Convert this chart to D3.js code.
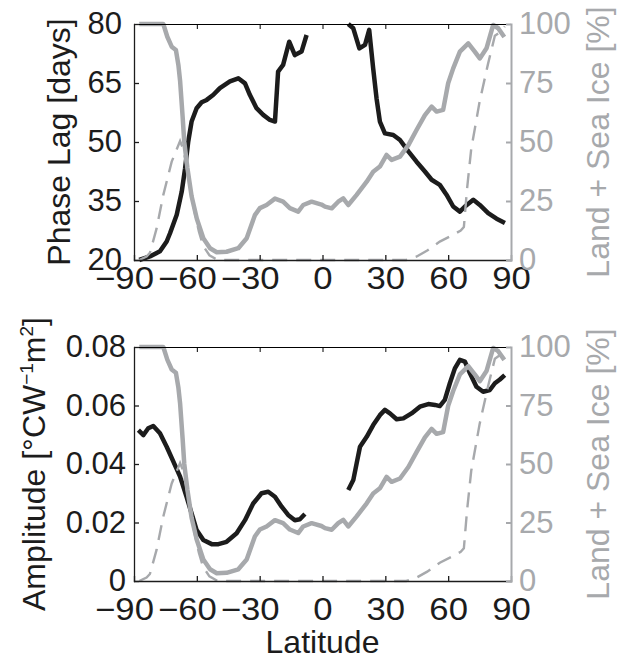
<!DOCTYPE html>
<html>
<head>
<meta charset="utf-8">
<script src="https://cdn.jsdelivr.net/npm/d3@7"></script>
<style>
  body { margin: 0; background: #fff; }
  svg text { font-family: "Liberation Sans", Arial, Helvetica, sans-serif; }
</style>
</head>
<body>
<svg id="chart" width="623" height="659"></svg>
<script>
// values: [latitude, value]
const phaseLagSouth = [[-87.5,20],[-82.4,20.9],[-77.6,22.2],[-74.4,24.7],[-72.8,26.8],[-69.6,31.5],[-67.2,37.4],
  [-65.6,43.3],[-64.1,50.1],[-62.5,55.2],[-60.1,58.6],[-57.7,60.1],[-55.3,60.7],[-52.1,62],[-49,63.7],[-44.2,65.4],
  [-40.2,66.2],[-37,64.9],[-34.7,62],[-31.5,58.6],[-28.3,56.9],[-25.1,55.6],[-22.7,55.2],[-21.2,67.9],[-18.8,69.6],
  [-15.9,75.5],[-13.2,72.1],[-10,73],[-7.6,77.2]];
const phaseLagNorth = [[12.3,80],[14.7,78.9],[17.6,73.8],[20.3,74.7],[22.3,78.5],[24.2,68.7],[25.8,61.1],[27.4,55.2],
  [29.8,52.2],[33.8,51.8],[37,50.5],[41,47.6],[44.9,45],[48.9,42.5],[52.1,40.4],[56,39.1],[59.2,36.6],[62.4,33.6],
  [65.6,32.3],[68,33.6],[72,35.3],[75.1,34],[79.1,31.9],[83.1,30.5],[87.1,29.4]];

const amplitudeSouth = [[-87.9,0.0516],[-85.5,0.0499],[-83.2,0.0522],[-80.8,0.053],[-77.6,0.0505],[-74.4,0.0459],
  [-71.2,0.0408],[-68,0.0357],[-64.9,0.0288],[-62.5,0.0231],[-60.1,0.0174],[-56.9,0.014],[-52.9,0.0126],
  [-49.7,0.0126],[-45.8,0.0134],[-41,0.0163],[-37,0.0208],[-33.1,0.0265],[-29.1,0.03],[-25.9,0.0305],
  [-22.7,0.0288],[-19.5,0.0254],[-16.4,0.0226],[-13.2,0.0208],[-10.8,0.0211],[-8.4,0.0229]];
const amplitudeNorth = [[12.3,0.0311],[14.7,0.0345],[16.3,0.0402],[17.9,0.0459],[21.1,0.0493],[24.2,0.0533],
  [27.4,0.0567],[29.8,0.0585],[32.2,0.0573],[35.4,0.0553],[38.6,0.0556],[42.5,0.0573],[46.5,0.0596],[50.5,0.0605],
  [53.7,0.0602],[56,0.0598],[58.4,0.0619],[60.8,0.0676],[63.2,0.0727],[65.6,0.0756],[68,0.075],[70.4,0.071],
  [73.5,0.0664],[76.7,0.0647],[79.9,0.0653],[82.3,0.0676],[84.7,0.0689],[87,0.0704]];

const landSeaIce = [[-87.5,100],[-76,100],[-74.1,94.6],[-72,90.4],[-70,89],[-68.8,82.6],[-68,76],[-66.8,61],
  [-66,50],[-64.5,39],[-62.5,27],[-60,17.5],[-56.9,9.2],[-53.7,5],[-50.5,3.3],[-45.8,3.5],[-40.2,5],[-36.2,9.2],
  [-32.3,19],[-29.9,22],[-26.7,23.3],[-22.7,26],[-18.8,24.7],[-15.6,22],[-11.6,20.5],[-9.2,23.3],[-5.2,24.7],
  [-0.5,23.5],[1.2,22.6],[4.4,21.9],[7.5,24.7],[9.9,26.1],[12.3,23.3],[16.3,27.6],[21.1,33.2],[24.2,37.4],
  [27.4,39.6],[30.6,44.5],[33,42.4],[37,43.8],[41,48.7],[44.9,55.1],[48.9,61.4],[52.1,65],[54.5,62.9],[57.6,63.6],
  [60,74.9],[62.4,81.2],[65.6,88.3],[69.6,91.8],[72.7,88.3],[75.1,85.4],[78.3,89.7],[81.5,99.6],[83.9,98.2],[86.8,94.5]];
const seaIce = [[-87.5,0],[-84,1.5],[-82.4,3],[-79.2,13.4],[-76,27.6],[-72,41.7],[-68,50.4],[-66.5,47],[-65,40],
  [-63,30],[-61,20],[-59,12],[-57,6],[-54,2],[-50,0],[40,0],[45,1.5],[50,4],[56,7.8],[62,10.5],[66,12.5],[67.5,14],
  [69,30],[71,47],[75,67],[79,83],[82.3,95],[85.5,97],[87,99]];

const latTicks = [-90, -60, -30, 0, 30, 60, 90];
const phaseTicks = [20, 35, 50, 65, 80];
const ampTicks = [0, 0.02, 0.04, 0.06, 0.08];
const pctTicks = [0, 25, 50, 75, 100];

const BLACK = "#1c1c1c", GRAY = "#a7a9ac";
const svg = d3.select("#chart");

function drawPanel(p) {
  const x = d3.scaleLinear().domain([-90, 90]).range([134, 511]);
  const yL = d3.scaleLinear().domain(p.leftDomain).range([p.bottom, p.top]);
  const yR = d3.scaleLinear().domain([0, 100]).range([p.bottom, p.top]);
  const g = svg.append("g");

  const lineL = d3.line().x(d => x(d[0])).y(d => yL(d[1]));
  const lineR = d3.line().x(d => x(d[0])).y(d => yR(d[1]));

  p.black.forEach(seg => {
    g.append("path").attr("d", lineL(seg)).attr("fill", "none")
      .attr("stroke", BLACK).attr("stroke-width", 4.5).attr("stroke-linejoin", "round");
  });
  g.append("path").attr("d", lineR(seaIce)).attr("fill", "none")
    .attr("stroke", GRAY).attr("stroke-width", 2.4).attr("stroke-dasharray", "15,9");
  g.append("path").attr("d", lineR(landSeaIce)).attr("fill", "none")
    .attr("stroke", GRAY).attr("stroke-width", 4.5).attr("stroke-linejoin", "round");

  const fs = 31;
  // bottom axis
  const ax = g.append("g").attr("transform", `translate(0,${p.bottom})`)
    .call(d3.axisBottom(x).tickValues(latTicks).tickSize(-5).tickSizeOuter(0).tickPadding(p.xPad));
  // top axis
  g.append("g").attr("transform", `translate(0,${p.top})`)
    .call(d3.axisTop(x).tickValues(latTicks).tickSize(-5).tickSizeOuter(0).tickFormat(""));
  // left axis
  const ay = g.append("g").attr("transform", "translate(134,0)")
    .call(d3.axisLeft(yL).tickValues(p.leftTicks).tickSize(-5).tickSizeOuter(0).tickPadding(p.leftPad)
      .tickFormat(p.leftFormat));
  // right axis
  const ar = g.append("g").attr("transform", "translate(511,0)")
    .call(d3.axisRight(yR).tickValues(pctTicks).tickSize(-5).tickSizeOuter(0).tickPadding(8));

  [ax, ay].forEach(a => {
    a.selectAll("path, line").attr("stroke", BLACK).attr("stroke-width", 1.3);
    a.selectAll("text").attr("fill", BLACK).attr("font-size", fs).attr("font-family", null);
  });
  // latitude labels are drawn a bit wider; negative ones sit left of the tick
  ax.selectAll("text")
    .attr("transform", d => `translate(${d < 0 ? -10 : 0},0) scale(1.12,1)`);
  ar.selectAll("path, line").attr("stroke", GRAY).attr("stroke-width", 2);
  ar.selectAll("text").attr("fill", GRAY).attr("font-size", fs).attr("font-family", null);
  g.selectAll(".domain").attr("stroke-linecap", "square");

  // left title
  const lt = g.append("text").attr("transform", `translate(${p.titleX},${(p.top + p.bottom) / 2}) rotate(-90)`)
    .attr("text-anchor", "middle").attr("font-size", 32).attr("fill", BLACK);
  p.title(lt);
  // right title
  g.append("text").attr("transform", `translate(609,${(p.top + p.bottom) / 2}) rotate(-90)`)
    .attr("text-anchor", "middle").attr("font-size", 32).attr("fill", GRAY)
    .text("Land + Sea Ice [%]");
}

drawPanel({
  top: 24, bottom: 260, xPad: 7,
  leftDomain: [20, 80], leftTicks: phaseTicks, leftFormat: d3.format("d"), leftPad: 12,
  black: [phaseLagSouth, phaseLagNorth],
  titleX: 70,
  title: t => t.text("Phase Lag [days]")
});

drawPanel({
  top: 347, bottom: 581, xPad: 17,
  leftDomain: [0, 0.08], leftTicks: ampTicks, leftFormat: d => d === 0 ? "0" : d3.format(".2f")(d), leftPad: 8,
  black: [amplitudeSouth, amplitudeNorth],
  titleX: 45,
  title: t => {
    t.append("tspan").text("Amplitude [°CW");
    t.append("tspan").attr("font-size", 19).attr("dy", -12).text("−1");
    t.append("tspan").attr("dy", 12).text("m");
    t.append("tspan").attr("font-size", 19).attr("dy", -12).text("2");
    t.append("tspan").attr("dy", 12).text("]");
  }
});

svg.append("text").attr("x", 322.5).attr("y", 653).attr("text-anchor", "middle")
  .attr("font-size", 32).attr("fill", BLACK).text("Latitude");
</script>
</body>
</html>
